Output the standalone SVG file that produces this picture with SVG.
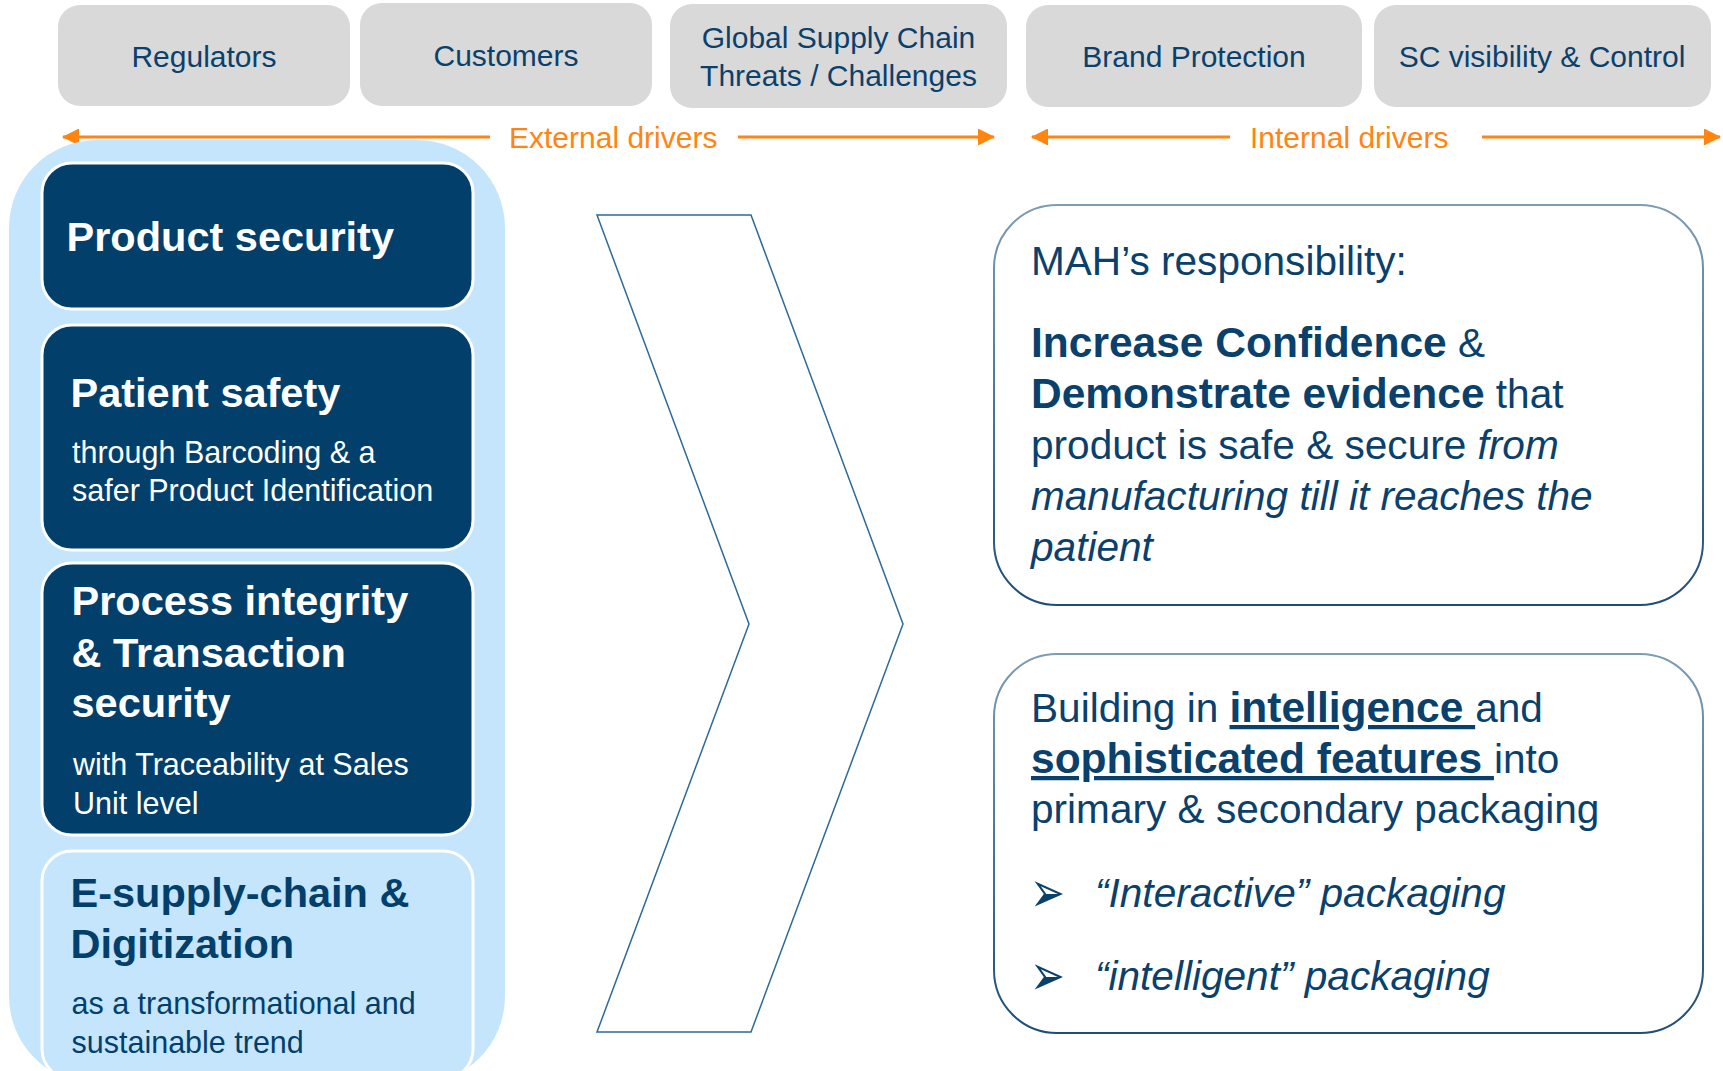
<svg xmlns="http://www.w3.org/2000/svg" width="1723" height="1071" viewBox="0 0 1723 1071">
<defs>
<style>
.f{font-family:"Liberation Sans",Arial,Helvetica,sans-serif}
.hdr{fill:#d9d9d9}
.hdrt{font-size:30px;fill:#0a416c;text-anchor:middle}
.drv{font-size:30px;fill:#ff8410}
.drvl{stroke:#ff8410;stroke-width:3;fill:none}
.dark{fill:#023f6b;stroke:#ffffff;stroke-width:3}
.light{fill:#c5e5fc;stroke:#ffffff;stroke-width:3}
.h1w{font-size:41.5px;font-weight:bold;fill:#ffffff}
.h1b{font-size:41.5px;font-weight:bold;fill:#023f6b}
.sw{font-size:30.5px;fill:#ffffff}
.sb{font-size:30.5px;fill:#023f6b}
.rb{fill:#ffffff;stroke:url(#rbs);stroke-width:2}
.rt{font-size:40.6px;fill:#0a416c}
.b{font-weight:bold;font-size:42.5px}
.i{font-style:italic}
.u{text-decoration:underline}
.bul{font-family:"DejaVu Sans",sans-serif;font-size:34px;fill:#0a416c}
</style>
<marker id="ah" viewBox="0 0 17 17" refX="16" refY="8.5" markerWidth="17" markerHeight="17" markerUnits="userSpaceOnUse" orient="auto">
<path d="M0,0 L17,8.5 L0,17 z" fill="#ff8410"/>
</marker>
<linearGradient id="rbs" x1="0" y1="0" x2="0" y2="1">
<stop offset="0" stop-color="#7d9cb4"/>
<stop offset="1" stop-color="#1d4d78"/>
</linearGradient>
</defs>
<rect width="1723" height="1071" fill="#ffffff"/>

<g id="regulators">
<rect class="hdr" x="58" y="5" width="292" height="101" rx="22"/>
<text class="f hdrt" x="204" y="67">Regulators</text>
</g>
<g id="customers">
<rect class="hdr" x="360" y="3" width="292" height="103" rx="22"/>
<text class="f hdrt" x="506" y="66">Customers</text>
</g>
<g id="global-supply-chain">
<rect class="hdr" x="670" y="4" width="337" height="104" rx="22"/>
<text class="f hdrt" x="838.5" y="48">Global Supply Chain</text>
<text class="f hdrt" x="838.5" y="86">Threats / Challenges</text>
</g>
<g id="brand-protection">
<rect class="hdr" x="1026" y="5" width="336" height="102" rx="22"/>
<text class="f hdrt" x="1194" y="67">Brand Protection</text>
</g>
<g id="sc-visibility">
<rect class="hdr" x="1374" y="5" width="337" height="102" rx="22"/>
<text class="f hdrt" x="1542" y="67">SC visibility &amp; Control</text>
</g>

<g id="connectors">
<line class="drvl" x1="490" y1="137" x2="63" y2="137" marker-end="url(#ah)"/>
<line class="drvl" x1="738" y1="137" x2="994" y2="137" marker-end="url(#ah)"/>
<line class="drvl" x1="1230" y1="137" x2="1032" y2="137" marker-end="url(#ah)"/>
<line class="drvl" x1="1482" y1="137" x2="1720" y2="137" marker-end="url(#ah)"/>
</g>
<g id="external-drivers">
<text class="f drv" x="509" y="148">External drivers</text>
</g>
<g id="internal-drivers">
<text class="f drv" x="1250" y="148">Internal drivers</text>
</g>

<g id="left-panel">
<rect x="9" y="140" width="496" height="944" rx="88" fill="#c5e5fc"/>
</g>
<g id="product-security">
<rect class="dark" x="42" y="163" width="431" height="146" rx="30"/>
<text class="f h1w" x="66.5" y="251">Product security</text>
</g>
<g id="patient-safety">
<rect class="dark" x="42" y="325" width="431" height="225" rx="30"/>
<text class="f h1w" x="70.5" y="407">Patient safety</text>
<text class="f sw" x="72" y="463">through Barcoding &amp; a</text>
<text class="f sw" x="72" y="501">safer Product Identification</text>
</g>
<g id="process-integrity">
<rect class="dark" x="42" y="563" width="431" height="272" rx="30"/>
<text class="f h1w" x="71.5" y="615">Process integrity</text>
<text class="f h1w" x="71.5" y="667">&amp; Transaction</text>
<text class="f h1w" x="71.5" y="717">security</text>
<text class="f sw" x="73" y="775">with Traceability at Sales</text>
<text class="f sw" x="73" y="814">Unit level</text>
</g>
<g id="e-supply-chain">
<rect class="light" x="42" y="851" width="431" height="228" rx="30"/>
<text class="f h1b" x="70.5" y="907">E-supply-chain &amp;</text>
<text class="f h1b" x="70.5" y="958">Digitization</text>
<text class="f sb" x="71.5" y="1014">as a transformational and</text>
<text class="f sb" x="71.5" y="1053">sustainable trend</text>
</g>

<g id="chevron">
<polygon points="597,215 751,215 903,624 751,1032 597,1032 749,624" fill="#ffffff" stroke="#2d6a9a" stroke-width="1.5"/>
</g>

<g id="mah-responsibility">
<rect class="rb" x="994" y="205" width="709" height="400" rx="63"/>
<text class="f rt" x="1031" y="275">MAH’s responsibility:</text>
<text class="f rt" x="1031" y="357"><tspan class="b">Increase Confidence</tspan> &amp;</text>
<text class="f rt" x="1031" y="408"><tspan class="b">Demonstrate evidence</tspan> that</text>
<text class="f rt" x="1031" y="459">product is safe &amp; secure <tspan class="i">from</tspan></text>
<text class="f rt i" x="1031" y="510">manufacturing till it reaches the</text>
<text class="f rt i" x="1031" y="561">patient</text>
</g>

<g id="building-intelligence">
<rect class="rb" x="994" y="654" width="709" height="379" rx="63"/>
<text class="f rt" x="1031" y="722">Building in <tspan class="b u">intelligence </tspan>and</text>
<text class="f rt" x="1031" y="773"><tspan class="b u">sophisticated features </tspan>into</text>
<text class="f rt" x="1031" y="823">primary &amp; secondary packaging</text>
<text class="bul" transform="translate(1030,912) scale(1.23,1.7)">➢</text>
<text class="f rt i" x="1095" y="907">“Interactive” packaging</text>
<text class="bul" transform="translate(1030,995) scale(1.23,1.7)">➢</text>
<text class="f rt i" x="1095" y="990">“intelligent” packaging</text>
</g>
</svg>
